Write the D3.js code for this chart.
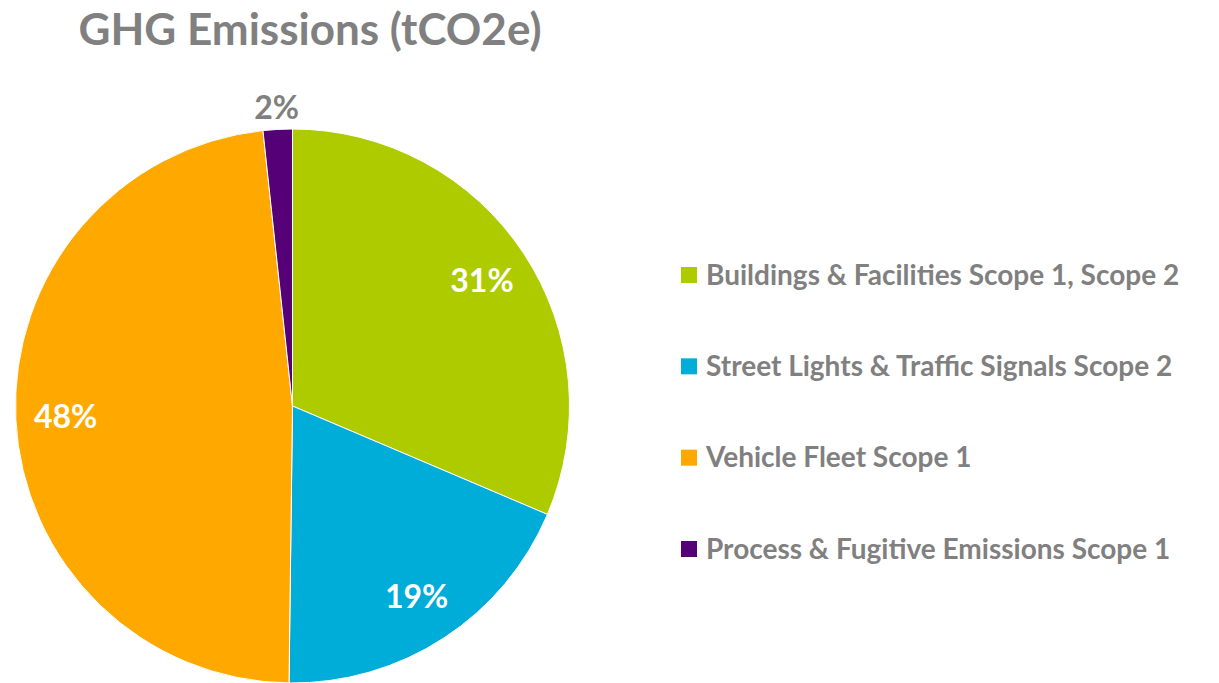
<!DOCTYPE html>
<html>
<head>
<meta charset="utf-8">
<script src="https://cdn.jsdelivr.net/npm/d3@7"></script>
<style>
  body { margin: 0; background: #fff; }
  text { font-family: Lato, "Open Sans", sans-serif; font-weight: bold; }
</style>
</head>
<body>
<svg id="drawing_region"></svg>
<script>
// chart data
const categories = [
    "Buildings & Facilities Scope 1, Scope 2",
    "Street Lights & Traffic Signals Scope 2",
    "Vehicle Fleet Scope 1",
    "Process & Fugitive Emissions Scope 1"
];
const shares = [31.4, 18.8, 48.1, 1.7];
const colors = ["#aecb00", "#00acd8", "#ffa900", "#560078"];
const title = "GHG Emissions (tCO2e)";

const width = 1219, height = 683;
const cx = 292.5, cy = 406, radius = 277;

const svg = d3.select("#drawing_region")
    .attr("width", width)
    .attr("height", height);

svg.append("text")
    .attr("x", 310)
    .attr("y", 45)
    .attr("text-anchor", "middle")
    .attr("fill", "#808080")
    .style("font-size", "44px")
    .text(title);

const data = categories.map((c, i) => ({ label: c, value: shares[i], color: colors[i] }));

const pie = d3.pie()
    .value(d => d.value)
    .sort(null);

const arc = d3.arc()
    .innerRadius(0)
    .outerRadius(radius);

const labelArc = d3.arc()
    .innerRadius(radius * 0.82)
    .outerRadius(radius * 0.82);

const outerLabelArc = d3.arc()
    .innerRadius(radius + 22)
    .outerRadius(radius + 22);

const chart = svg.append("g")
    .attr("transform", `translate(${cx}, ${cy})`);

const arcs = pie(data);

chart.selectAll("path").data(arcs).enter()
    .append("path")
    .attr("d", arc)
    .attr("fill", d => d.data.color)
    .attr("stroke", "#fff")
    .attr("stroke-width", 1);

// labels: small slices go outside in grey
chart.selectAll("text.pct").data(arcs).enter()
    .append("text")
    .attr("class", "pct")
    .attr("transform", d => {
        const small = d.data.value < 5;
        const p = small ? outerLabelArc.centroid(d) : labelArc.centroid(d);
        return `translate(${p[0]}, ${p[1]})`;
    })
    .attr("text-anchor", "middle")
    .attr("dy", "0.36em")
    .attr("fill", d => d.data.value < 5 ? "#808080" : "#fff")
    .style("font-size", "32px")
    .text(d => Math.round(d.data.value) + "%");

// legend
const legend = svg.append("g")
    .attr("transform", "translate(681, 275)");

const legendScale = d3.scalePoint()
    .domain(categories)
    .range([0, 274]);

const item = legend.selectAll("g").data(data).enter()
    .append("g")
    .attr("transform", d => `translate(0, ${legendScale(d.label)})`);

item.append("rect")
    .attr("x", 0)
    .attr("y", -8)
    .attr("width", 16)
    .attr("height", 16)
    .attr("fill", d => d.color);

item.append("text")
    .attr("x", 25)
    .attr("dy", "0.35em")
    .attr("fill", "#808080")
    .style("font-size", "28px")
    .text(d => d.label);
</script>
</body>
</html>
